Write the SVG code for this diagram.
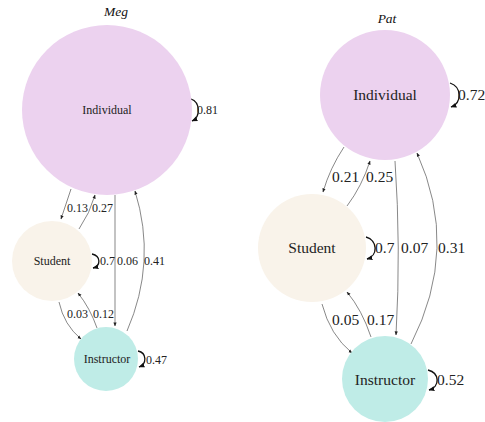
<svg xmlns="http://www.w3.org/2000/svg" width="485" height="422" viewBox="0 0 485 422">
<style>
.title{font-family:"Liberation Serif",serif;font-style:italic;font-size:13.5px;fill:#111;text-anchor:middle}
.nl{font-family:"Liberation Serif",serif;fill:#222;text-anchor:middle}
.el{font-family:"Liberation Serif",serif;fill:#222}
.m{font-size:12px}
.p{font-size:15.5px}
.edge{fill:none;stroke:#555;stroke-width:0.7}
.loop{fill:none;stroke:#111;stroke-width:1.3}
.ind{fill:#ecd2ef}
.stu{fill:#f9f3ea}
.ins{fill:#bfece7}
</style>
<defs>
<marker id="a" viewBox="0 0 10 10" refX="9" refY="5" markerWidth="4" markerHeight="4" markerUnits="userSpaceOnUse" orient="auto"><path d="M0,1 L10,5 L0,9 z" fill="#222"/></marker>
<marker id="b" viewBox="0 0 10 10" refX="9" refY="5" markerWidth="6" markerHeight="6" markerUnits="userSpaceOnUse" orient="auto"><path d="M0,1 L10,5 L0,9 z" fill="#111"/></marker>
</defs>
<rect width="485" height="422" fill="#fff"/>
<text class="title" x="116" y="16">Meg</text>
<text class="title" x="387" y="23">Pat</text>
<g id="connectors">
<path class="edge" d="M71 189 Q66 204 61 219" marker-end="url(#a)"/>
<path class="edge" d="M79 229 Q90 213 95 195" marker-end="url(#a)"/>
<path class="edge" d="M115 195 L115 326" marker-end="url(#a)"/>
<path class="edge" d="M127 331 Q157 262 135 191" marker-end="url(#a)"/>
<path class="edge" d="M59 302 Q64 325 81 339" marker-end="url(#a)"/>
<path class="edge" d="M97 328 Q90 308 78 293" marker-end="url(#a)"/>
<path class="loop" d="M191 99 C200 102 201 117 192 121" marker-end="url(#b)"/>
<path class="loop" d="M92 254 C101 256 101 266 93 268" marker-end="url(#b)"/>
<path class="loop" d="M138 351 C147 353 147 364 139 367" marker-end="url(#b)"/>
<path class="edge" d="M344 147 Q330 168 323 192" marker-end="url(#a)"/>
<path class="edge" d="M347 206 Q362 186 370 161" marker-end="url(#a)"/>
<path class="edge" d="M395 161 Q401 248 396 335" marker-end="url(#a)"/>
<path class="edge" d="M411 344 Q460 248 417 153" marker-end="url(#a)"/>
<path class="edge" d="M322 304 Q330 335 352 353" marker-end="url(#a)"/>
<path class="edge" d="M371 337 Q362 310 347 292" marker-end="url(#a)"/>
<path class="loop" d="M450 83 C462 87 462 103 451 107" marker-end="url(#b)"/>
<path class="loop" d="M366 237 C378 240 378 256 367 259" marker-end="url(#b)"/>
<path class="loop" d="M428 370 C440 373 440 387 429 390" marker-end="url(#b)"/>
</g>
<g id="meg-individual"><circle class="ind" cx="107" cy="110" r="85"/><text class="nl m" x="107" y="114">Individual</text></g>
<g id="meg-student"><circle class="stu" cx="52" cy="261" r="40"/><text class="nl m" x="52" y="265">Student</text></g>
<g id="meg-instructor"><circle class="ins" cx="106" cy="359" r="32"/><text class="nl m" x="107" y="363">Instructor</text></g>
<g id="pat-individual"><circle class="ind" cx="385" cy="95" r="65"/><text class="nl p" x="385" y="100">Individual</text></g>
<g id="pat-student"><circle class="stu" cx="312" cy="248" r="54"/><text class="nl p" x="312" y="253">Student</text></g>
<g id="pat-instructor"><circle class="ins" cx="385" cy="379" r="43"/><text class="nl p" x="385" y="385">Instructor</text></g>
<g id="meg-labels">
<text class="el m" x="197" y="114">0.81</text>
<text class="el m" x="67" y="212">0.13</text>
<text class="el m" x="92" y="212">0.27</text>
<text class="el m" x="100" y="265">0.7</text>
<text class="el m" x="117" y="265">0.06</text>
<text class="el m" x="144" y="265">0.41</text>
<text class="el m" x="67" y="318">0.03</text>
<text class="el m" x="93" y="318">0.12</text>
<text class="el m" x="146" y="364">0.47</text>
</g>
<g id="pat-labels">
<text class="el p" x="458" y="100">0.72</text>
<text class="el p" x="332" y="182">0.21</text>
<text class="el p" x="366" y="182">0.25</text>
<text class="el p" x="375" y="253">0.7</text>
<text class="el p" x="401" y="253">0.07</text>
<text class="el p" x="438" y="253">0.31</text>
<text class="el p" x="332" y="325">0.05</text>
<text class="el p" x="367" y="325">0.17</text>
<text class="el p" x="437" y="385">0.52</text>
</g>
</svg>
